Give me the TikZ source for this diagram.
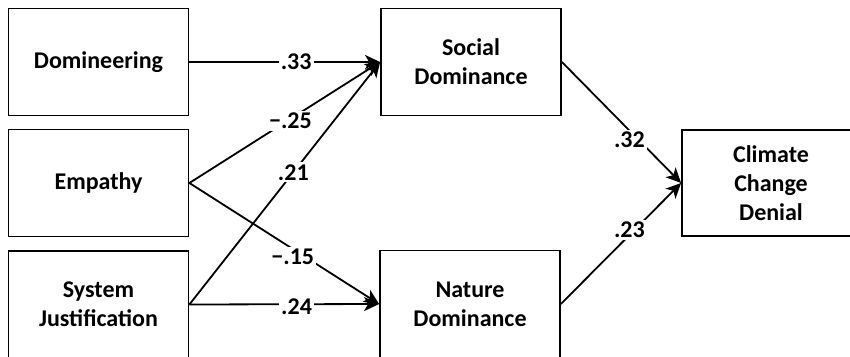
\documentclass[tikz,border=0pt]{standalone}
\usepackage{fontspec}
\setmainfont{Carlito}
\usetikzlibrary{arrows.meta}
\tikzset{
  box/.style={draw=black, line width=1.8pt, fill=white, minimum width=180pt, minimum height=107pt, inner sep=0pt, align=center, font=\fontsize{24}{29}\selectfont\bfseries},
  arr/.style={line width=1.8pt, -{Stealth[length=15pt,width=14pt,inset=4pt]}},
  lbl/.style={fill=white, inner sep=2pt, font=\fontsize{24}{28}\selectfont\bfseries}
}
\begin{document}
\begin{tikzpicture}[x=1pt,y=-1pt]
\useasboundingbox (0,0) rectangle (850,356);
\clip (0,0) rectangle (850,356);
\node[box] (dom) at (98.5,62) {Domineering};
\node[box] (emp) at (98.5,183) {Empathy};
\node[box] (sj) at (98.5,304.5) {System\\Justification};
\node[box] (sd) at (471,62) {Social\\Dominance};
\node[box] (nd) at (470,304) {Nature\\Dominance};
\node[box, minimum width=178pt, minimum height=106pt] (ccd) at (771,183) {Climate\\Change\\Denial};

\draw[arr] (dom.east) -- node[lbl, pos=0.56] (l33) {.33} (sd.west);
\draw[arr] (emp.east) -- node[lbl, pos=0.53, yshift=-2pt] (l25) {−.25} (sd.west);
\draw[arr] (sj.east) -- node[lbl, pos=0.545] (l21) {.21} (sd.west);
\draw[arr] (emp.east) -- node[lbl, pos=0.545, yshift=-8pt] (l15) {−.15} (nd.west);
\draw[arr] (sj.east) -- node[lbl, pos=0.565, yshift=-2pt] (l24) {.24} (nd.west);
\draw[arr] (sd.east) -- node[lbl, pos=0.6, xshift=-4pt, yshift=-5pt] (l32) {.32} (ccd.west);
\draw[arr] (nd.east) -- node[lbl, pos=0.57, yshift=5pt] (l23) {.23} (ccd.west);
\end{tikzpicture}
\end{document}
